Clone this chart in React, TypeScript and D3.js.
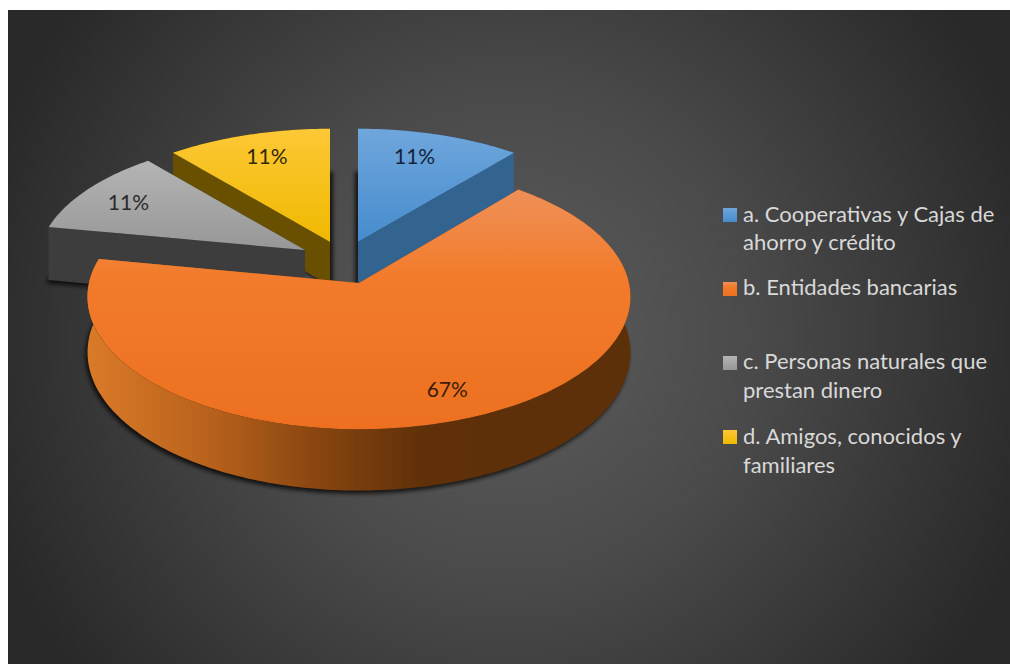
import React from "react";
import * as d3 from "d3";

// Survey shares per credit source
const categories = ["a", "b", "c", "d"];
const shares = [11, 67, 11, 11];
const legendLines = [
  ["a. Cooperativas y Cajas de", "ahorro y crédito"],
  ["b. Entidades bancarias"],
  ["c. Personas naturales que", "prestan dinero"],
  ["d. Amigos, conocidos y", "familiares"],
];
const topColors = [
  ["#6fa6dc", "#468ccd"],
  ["#ef9058", "#ec701f"],
  ["#b4b4b4", "#979797"],
  ["#fdc836", "#efb900"],
];
const wallColors = ["#33648f", "#6b3508", "#3d3d3d", "#685000"];

// Exploded slice geometry: apex, horizontal/vertical radii, extrusion depth, label nudge, shadow shift, label ink
const sliceLayout = [
  { cx: 358, cy: 242, rx: 264, ry: 125, depth: 44, nudge: -9, shift: -3, ink: "#14233a" },
  { cx: 359, cy: 283, rx: 270, ry: 131, depth: 55, nudge: 10, shift: -2, ink: "#3a1c08" },
  { cx: 305, cy: 250, rx: 266, ry: 125, depth: 54, nudge: -3, shift: -3, ink: "#2a2a2a" },
  { cx: 330, cy: 242, rx: 266, ry: 125, depth: 44, nudge: 3, shift: 3, ink: "#33280a" },
];
const legendRows = [
  { box: 208, base: [222, 250] },
  { box: 282, base: [295] },
  { box: 356, base: [369, 398] },
  { box: 430, base: [444, 473] },
];
const drawOrder = [3, 2, 0, 1];

const PERSPECTIVE = 0.104;
const LABEL_RADIUS = 0.79;

const pieAngles = d3.pie<number>().sort(null)(shares);
const topColor = d3.scaleOrdinal<string, string[]>().domain(categories).range(topColors);
const wallColor = d3.scaleOrdinal<string, string>().domain(categories).range(wallColors);
const toLine = d3.line<[number, number]>();

type Slice = (typeof sliceLayout)[number];

// Projects a polar position on the pie's top plane, far points shrinking slightly
function project(s: Slice, angle: number, radius = 1, drop = 0): [number, number] {
  const u = Math.sin(angle) * radius;
  const v = Math.cos(angle) * radius;
  const k = 1 / (1 + PERSPECTIVE * v);
  return [s.cx + s.rx * u * k, s.cy - s.ry * v * k + drop * k];
}

function arcPoints(s: Slice, a0: number, a1: number, drop = 0) {
  const steps = Math.max(2, Math.ceil(Math.abs(a1 - a0) / 0.02));
  return d3.range(steps + 1).map((i) => project(s, a0 + ((a1 - a0) * i) / steps, 1, drop));
}

function facePath(s: Slice, a0: number, a1: number, drop = 0) {
  return toLine([project(s, 0, 0, drop), ...arcPoints(s, a0, a1, drop)]) + "Z";
}

function outerWall(s: Slice, a0: number, a1: number) {
  return toLine([...arcPoints(s, a0, a1), ...arcPoints(s, a1, a0, s.depth)]) + "Z";
}

function cutWall(s: Slice, angle: number) {
  return (
    toLine([project(s, 0, 0), project(s, angle), project(s, angle, 1, s.depth), project(s, 0, 0, s.depth)]) + "Z"
  );
}

export default function App() {
  return (
    <svg
      width={1010}
      height={664}
      style={{ position: "absolute", left: 0, top: 0, display: "block", background: "#fff" }}
      fontFamily="Lato, 'Open Sans', sans-serif"
    >
      <defs>
        <radialGradient id="panel" gradientUnits="userSpaceOnUse" cx={509} cy={337} r={545}>
          <stop offset="0" stopColor="#5d5d5d" />
          <stop offset="0.45" stopColor="#4a4a4a" />
          <stop offset="1" stopColor="#292929" />
        </radialGradient>
        <linearGradient id="orangeWall" gradientUnits="userSpaceOnUse" x1={88} x2={632} y1={0} y2={0}>
          <stop offset="0" stopColor="#d97a28" />
          <stop offset="0.22" stopColor="#b9621c" />
          <stop offset="0.45" stopColor="#82420f" />
          <stop offset="0.62" stopColor="#5f3009" />
          <stop offset="1" stopColor="#5c3009" />
        </linearGradient>
        {categories.map((c, i) => (
          <linearGradient key={c} id={`top-${i}`} x1="0" x2="0" y1="0" y2="1">
            <stop offset="0" stopColor={topColor(c)[0]} />
            <stop offset={i === 1 ? "0.35" : "1"} stopColor={i === 1 ? "#f27c2c" : topColor(c)[1]} />
            {i === 1 && <stop offset="1" stopColor={topColor(c)[1]} />}
          </linearGradient>
        ))}
        <filter id="soft" x="-10%" y="-10%" width="120%" height="120%">
          <feGaussianBlur stdDeviation="2.2" />
        </filter>
      </defs>
      <rect x={8} y={10} width={1002} height={654} fill="url(#panel)" />

      {drawOrder.map((i) => {
        const arc = pieAngles[i];
        const s = sliceLayout[i];
        const fillWall = i === 1 ? "url(#orangeWall)" : wallColor(categories[i]);
        return (
          <g key={categories[i]}>
            <path
              d={facePath(s, arc.startAngle, arc.endAngle, s.depth + 1)}
              transform={`translate(${s.shift} 2)`}
              fill="#000"
              fillOpacity={0.75}
              filter="url(#soft)"
            />
            <path d={cutWall(s, arc.startAngle)} fill={fillWall} />
            <path d={cutWall(s, arc.endAngle)} fill={fillWall} />
            <path d={outerWall(s, arc.startAngle, arc.endAngle)} fill={fillWall} />
            <path d={facePath(s, arc.startAngle, arc.endAngle)} fill={`url(#top-${i})`} />
          </g>
        );
      })}

      {pieAngles.map((arc, i) => {
        const s = sliceLayout[i];
        const [x, y] = project(s, (arc.startAngle + arc.endAngle) / 2, LABEL_RADIUS);
        return (
          <text
            key={categories[i]}
            x={x + s.nudge}
            y={y}
            fontSize={21}
            fill={s.ink}
            textAnchor="middle"
            dominantBaseline="central"
          >
            {shares[i]}%
          </text>
        );
      })}

      {legendRows.map((row, i) => (
        <g key={categories[i]}>
          <rect x={723} y={row.box} width={14} height={14} fill={`url(#top-${i})`} />
          {legendLines[i].map((line, j) => (
            <text key={line} x={743} y={row.base[j]} fontSize={22} fill="#d9d9d9">
              {line}
            </text>
          ))}
        </g>
      ))}
    </svg>
  );
}
